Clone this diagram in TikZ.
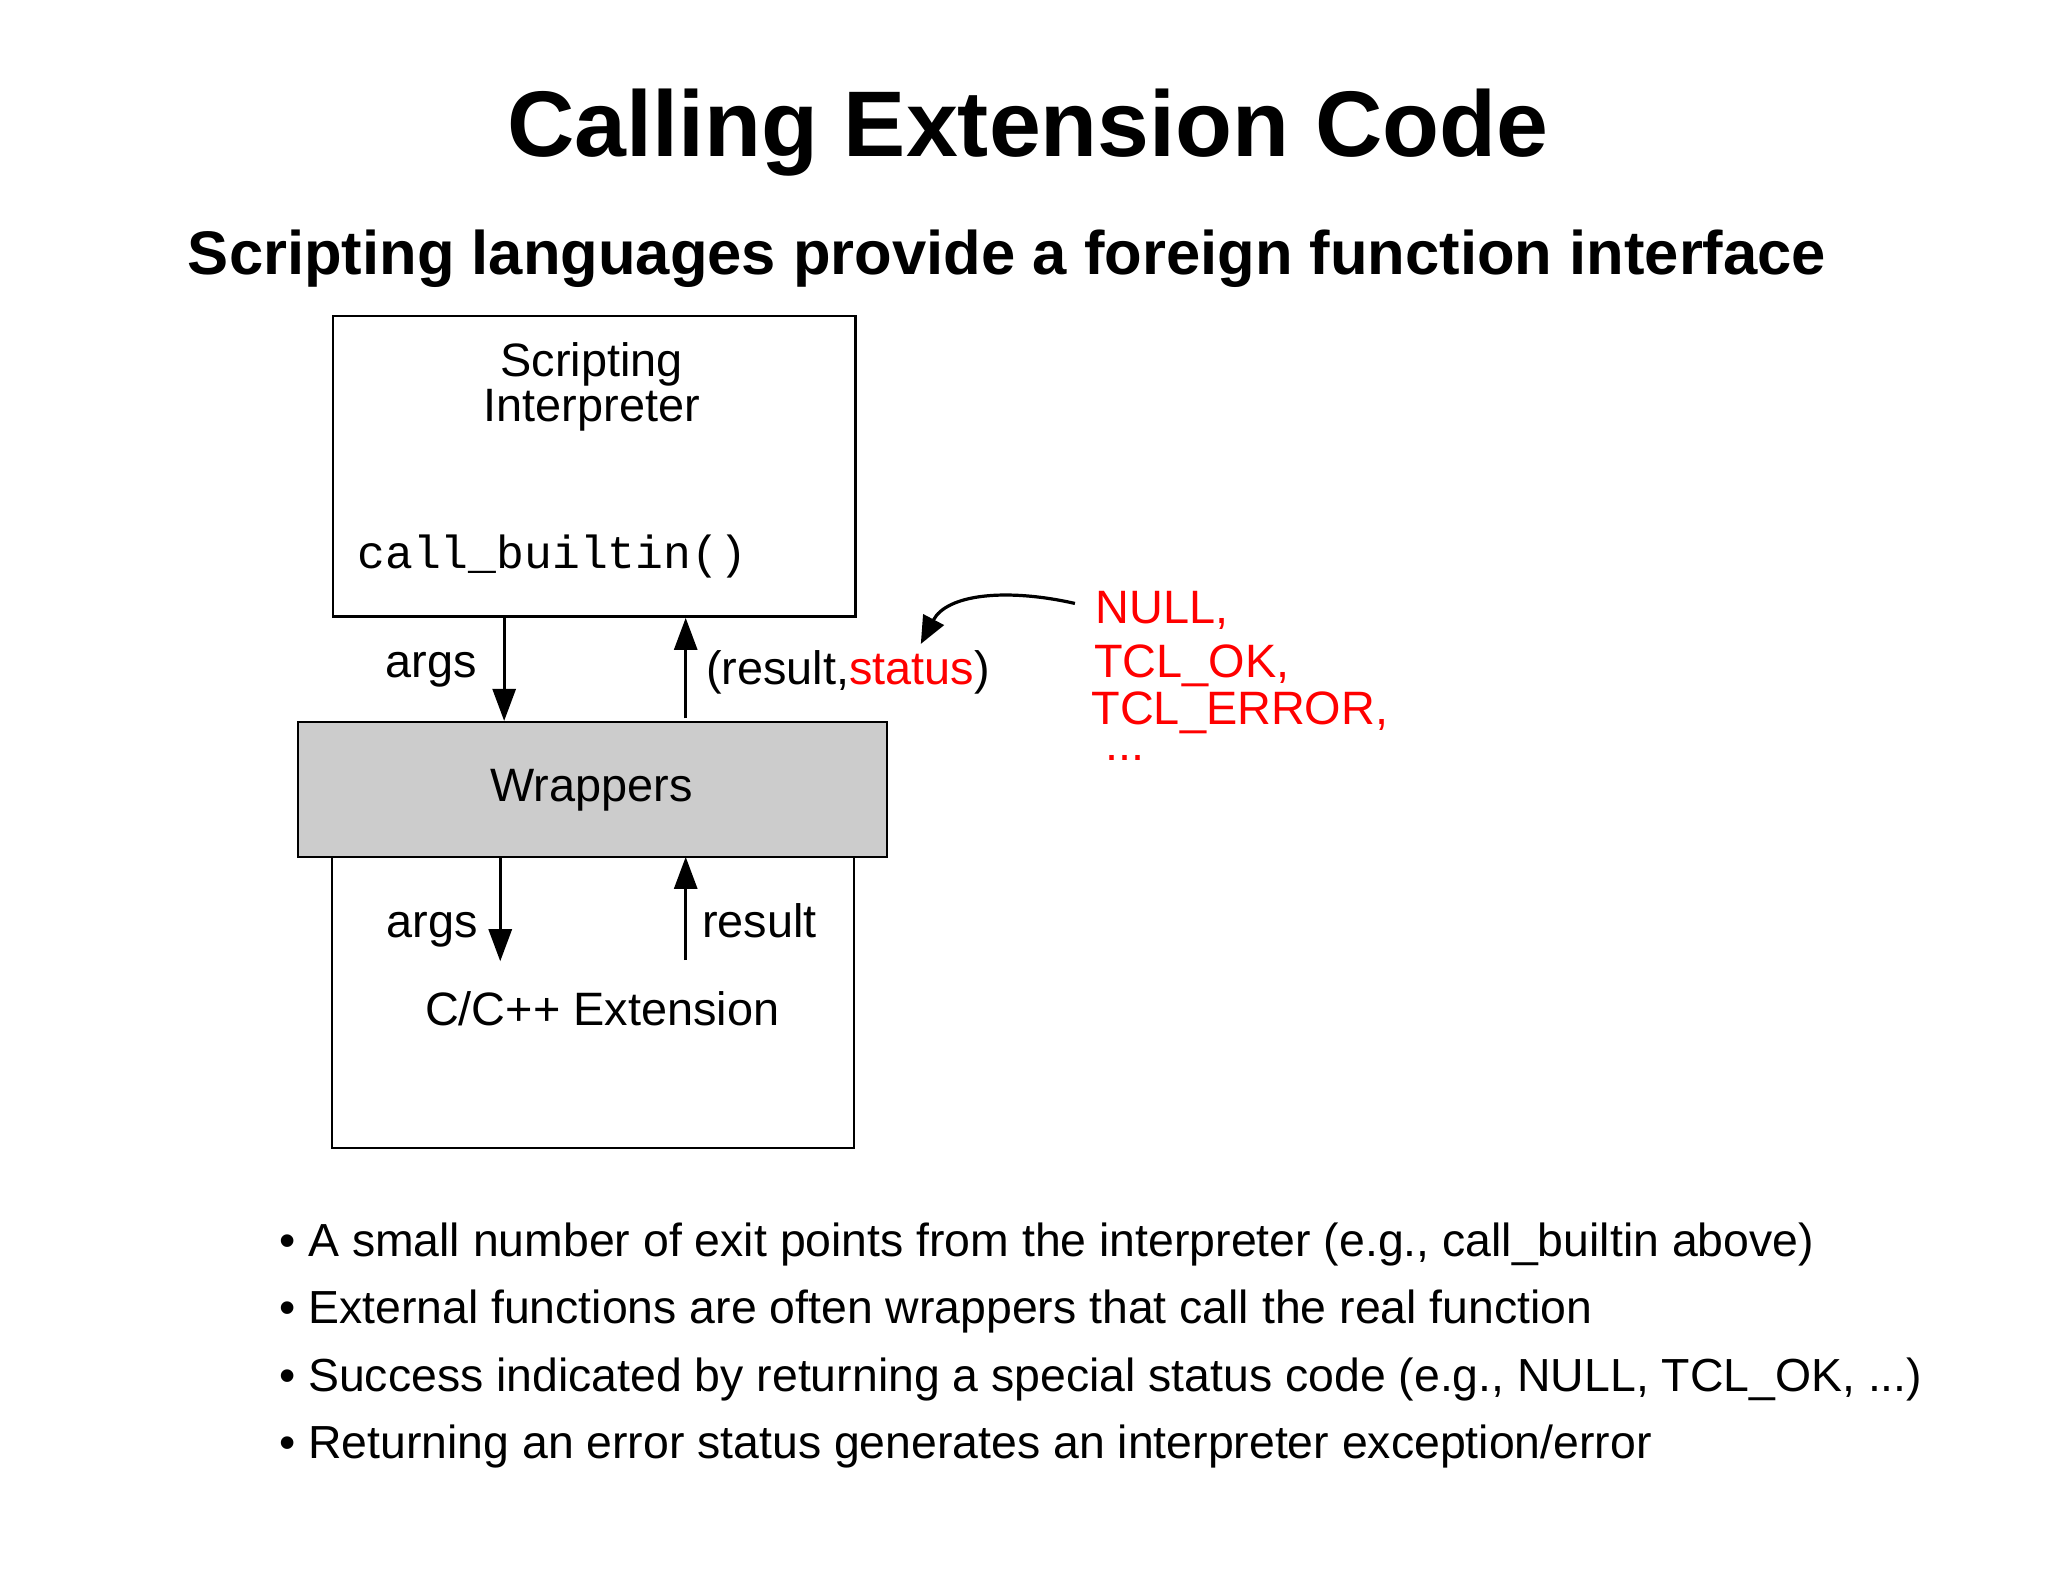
\documentclass[tikz,border=0pt]{standalone}
\usepackage{fontspec}
\setmainfont{Liberation Sans}
\setmonofont{Liberation Mono}
\usetikzlibrary{arrows.meta}
\begin{document}
\begin{tikzpicture}[x=0.01cm,y=-0.01cm,
  box/.style={draw,line width=0.5pt},
  lbl/.style={font=\fontsize{10.2}{12}\selectfont,inner sep=0pt},
  arr/.style={line width=0.7pt,-{Triangle[length=7pt,width=5pt]}},
  red/.style={text=red},
  bul/.style={font=\fontsize{10.1}{12}\selectfont,anchor=base west,inner sep=0pt}]
\fill[white] (0,0) rectangle (1568,1211);
\useasboundingbox (0,0) rectangle (1568,1211);
\node[font=\fontsize{20.3}{24}\selectfont\bfseries,anchor=base] (title) at (787,120) {Calling Extension Code};
\node[font=\fontsize{13.4}{16}\selectfont\bfseries,anchor=base] (sub) at (771,210) {Scripting languages provide a foreign function interface};
% boxes
\draw[box] (255,242) rectangle (655,472);
\node[lbl,anchor=base] (interpt1) at (453,288) {Scripting};
\node[lbl,anchor=base] (interpt2) at (453,323) {Interpreter};
\node[inner sep=0pt,anchor=base west,font=\ttfamily\fontsize{10.1}{12}\selectfont] (cb) at (273,435) {call\_builtin()};
\draw[box] (254,656) rectangle (654,879);
\draw[box,fill=black!20] (228,553) rectangle (679,656);
\node[lbl,anchor=base] (wrapt) at (453,614) {Wrappers};
\node[lbl,anchor=base] (extt) at (461,785) {C/C++ Extension};
% arrows
\coordinate (a1s) at (386,472); \coordinate (a1e) at (386,552);
\coordinate (r1s) at (525,550); \coordinate (r1e) at (525,473);
\coordinate (a2s) at (383,657); \coordinate (a2e) at (383,736);
\coordinate (r2s) at (525,735); \coordinate (r2e) at (525,656);
\draw[arr] (a1s) -- (a1e);
\draw[arr] (r1s) -- (r1e);
\draw[arr] (a2s) -- (a2e);
\draw[arr] (r2s) -- (r2e);
\node[lbl,anchor=base] (args1) at (330,519) {args};
\node[lbl,anchor=base west] (rs) at (540,524) {(result,\textcolor{red}{status})};
\node[lbl,anchor=base] (args2) at (331,718) {args};
\node[lbl,anchor=base west] (res2) at (537,718) {result};
% red
\node[lbl,red,anchor=base west] (n1) at (838,477) {NULL,};
\node[lbl,red,anchor=base west] (n2) at (837,519) {TCL\_OK,};
\node[lbl,red,anchor=base west] (n3) at (835,555) {TCL\_ERROR,};
\node[lbl,red,anchor=base west] (n4) at (846,582) {...};
\coordinate (cs) at (823,462); \coordinate (ce) at (705,493);
\draw[red,line width=0.7pt,-{Triangle[length=6pt,width=5pt]}] (cs) .. controls (770,450) and (725,455) .. (ce);
% bullets
\node[bul] (b1) at (213,962) {\textbullet\ A small number of exit points from the interpreter (e.g., call\_builtin above)};
\node[bul] (b2) at (213,1013) {\textbullet\ External functions are often wrappers that call the real function};
\node[bul] (b3) at (213,1065) {\textbullet\ Success indicated by returning a special status code (e.g., NULL, TCL\_OK, ...)};
\node[bul] (b4) at (213,1117) {\textbullet\ Returning an error status generates an interpreter exception/error};
\end{tikzpicture}
\end{document}
